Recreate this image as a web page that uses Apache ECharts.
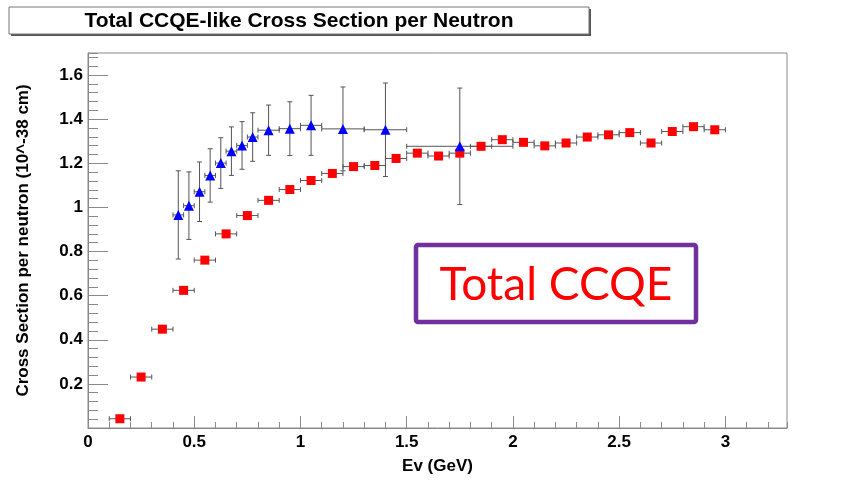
<!DOCTYPE html>
<html>
<head>
<meta charset="utf-8">
<script src="https://cdn.jsdelivr.net/npm/echarts@6.0.0/dist/echarts.min.js"></script>
<style>
  html, body { margin: 0; padding: 0; background: #fff; }
  #main { width: 861px; height: 480px; }
</style>
</head>
<body>
<div id="main"></div>
<script>
// total CCQE (red squares), bin centres, half width 0.05
var redX = [0.15, 0.25, 0.35, 0.45, 0.55, 0.65, 0.75, 0.85, 0.95, 1.05,
            1.15, 1.25, 1.35, 1.45, 1.55, 1.65, 1.75, 1.85, 1.95, 2.05,
            2.15, 2.25, 2.35, 2.45, 2.55, 2.65, 2.75, 2.85, 2.95];
var redY = [0.042, 0.231, 0.448, 0.624, 0.761, 0.880, 0.963, 1.032, 1.081, 1.122,
            1.154, 1.185, 1.190, 1.222, 1.246, 1.233, 1.246, 1.277, 1.307, 1.295,
            1.279, 1.292, 1.319, 1.329, 1.339, 1.292, 1.344, 1.366, 1.352];
var redXErr = [0.05, 0.05, 0.05, 0.05, 0.05, 0.05, 0.05, 0.05, 0.05, 0.05,
               0.05, 0.05, 0.05, 0.05, 0.05, 0.05, 0.05, 0.05, 0.05, 0.05,
               0.05, 0.05, 0.05, 0.05, 0.05, 0.05, 0.05, 0.05, 0.05];

// measured points (blue triangles)
var blueX = [0.425, 0.475, 0.525, 0.575, 0.625, 0.675, 0.725, 0.775, 0.85, 0.95, 1.05, 1.2, 1.4, 1.75];
var blueY = [0.966, 1.008, 1.071, 1.145, 1.201, 1.255, 1.281, 1.319, 1.350, 1.357, 1.372, 1.356, 1.352, 1.277];
var blueXErr = [0.025, 0.025, 0.025, 0.025, 0.025, 0.025, 0.025, 0.025, 0.05, 0.05, 0.05, 0.1, 0.1, 0.25];
var blueYErr = [0.200, 0.153, 0.135, 0.121, 0.115, 0.110, 0.108, 0.110, 0.114, 0.122, 0.136, 0.190, 0.212, 0.264];

var font = "'Liberation Sans', Arial, sans-serif";

function rows(xs, ys, xe, ye) {
  var out = [];
  for (var i = 0; i < xs.length; i++) {
    out.push([xs[i], ys[i], xe[i], ye ? ye[i] : 0]);
  }
  return out;
}

function renderErr(params, api) {
  var x = api.value(0), y = api.value(1), ex = api.value(2), ey = api.value(3);
  var st = { stroke: '#555', lineWidth: 1 };
  var cap = 2.5;
  var kids = [];
  var l = api.coord([x - ex, y]), r = api.coord([x + ex, y]);
  kids.push({ type: 'line', shape: { x1: l[0], y1: l[1], x2: r[0], y2: r[1] }, style: st });
  kids.push({ type: 'line', shape: { x1: l[0], y1: l[1] - cap, x2: l[0], y2: l[1] + cap }, style: st });
  kids.push({ type: 'line', shape: { x1: r[0], y1: r[1] - cap, x2: r[0], y2: r[1] + cap }, style: st });
  if (ey > 0) {
    var t = api.coord([x, y + ey]), b = api.coord([x, y - ey]);
    kids.push({ type: 'line', shape: { x1: t[0], y1: t[1], x2: b[0], y2: b[1] }, style: st });
    kids.push({ type: 'line', shape: { x1: t[0] - cap, y1: t[1], x2: t[0] + cap, y2: t[1] }, style: st });
    kids.push({ type: 'line', shape: { x1: b[0] - cap, y1: b[1], x2: b[0] + cap, y2: b[1] }, style: st });
  }
  return { type: 'group', children: kids };
}

var labelStyle = { color: '#000', fontFamily: font, fontWeight: 'bold', fontSize: 17 };
var nameStyle = { color: '#000', fontFamily: font, fontWeight: 'bold', fontSize: 17 };

var option = {
  backgroundColor: '#fff',
  animation: false,
  grid: {
    left: 88, top: 53, width: 699, height: 382,
    show: true, borderColor: '#8a8a8a', borderWidth: 1
  },
  xAxis: [
    {
      type: 'value', min: 0, max: 3.29, interval: 0.5,
      name: 'Ev (GeV)', nameLocation: 'middle', nameGap: 30,
      nameTextStyle: nameStyle,
      axisLine: { lineStyle: { color: '#8a8a8a' } },
      axisTick: { inside: true, length: 12, lineStyle: { color: '#8a8a8a' } },
      axisLabel: Object.assign({ margin: 6, showMaxLabel: false }, labelStyle),
      splitLine: { show: false }
    },
    {
      // minor ticks
      type: 'value', min: 0, max: 3.29, interval: 0.1, position: 'bottom',
      axisLine: { show: false },
      axisTick: { inside: true, length: 6, lineStyle: { color: '#8a8a8a' } },
      axisLabel: { show: false },
      splitLine: { show: false }
    }
  ],
  yAxis: [
    {
      type: 'value', min: 0, max: 1.7, interval: 0.2,
      name: 'Cross Section per neutron (10^-38 cm)', nameLocation: 'middle', nameGap: 56,
      nameTextStyle: nameStyle,
      axisLine: { lineStyle: { color: '#8a8a8a' } },
      axisTick: { inside: true, length: 20, lineStyle: { color: '#8a8a8a' } },
      axisLabel: Object.assign({ margin: 5, showMinLabel: false, showMaxLabel: false }, labelStyle),
      splitLine: { show: false }
    },
    {
      type: 'value', min: 0, max: 1.7, interval: 0.04, position: 'left',
      axisLine: { show: false },
      axisTick: { inside: true, length: 10, lineStyle: { color: '#8a8a8a' } },
      axisLabel: { show: false },
      splitLine: { show: false }
    }
  ],
  series: [
    {
      type: 'custom', name: 'redErr', renderItem: renderErr,
      encode: { x: 0, y: 1 }, z: 2,
      data: rows(redX, redY, redXErr)
    },
    {
      type: 'custom', name: 'blueErr', renderItem: renderErr,
      encode: { x: 0, y: 1 }, z: 2,
      data: rows(blueX, blueY, blueXErr, blueYErr)
    },
    {
      type: 'scatter', name: 'Total CCQE', symbol: 'rect', symbolSize: 9, z: 4,
      itemStyle: { color: '#ff0000', opacity: 1 },
      data: redX.map(function (x, i) { return [x, redY[i]]; })
    },
    {
      type: 'scatter', name: 'data', symbol: 'triangle', symbolSize: 10, z: 5,
      itemStyle: { color: '#0000ff', opacity: 1 },
      data: blueX.map(function (x, i) { return [x, blueY[i]]; })
    }
  ],
  graphic: [
    // title box with ROOT style shadow
    { type: 'rect', shape: { x: 11, y: 9, width: 580, height: 27 }, style: { fill: '#555' }, z: 10 },
    { type: 'rect', shape: { x: 9, y: 7, width: 580, height: 27 }, style: { fill: '#fff', stroke: '#777', lineWidth: 1 }, z: 11 },
    {
      type: 'text', x: 299, y: 21, z: 12,
      style: {
        text: 'Total CCQE-like Cross Section per Neutron',
        fill: '#000', font: 'bold 21px ' + font,
        textAlign: 'center', textVerticalAlign: 'middle'
      }
    },
    // annotation
    {
      type: 'rect', z: 10,
      shape: { x: 416, y: 245, width: 280, height: 77, r: 2 },
      style: { fill: '#fff', stroke: '#7030a0', lineWidth: 4.5 }
    },
    {
      type: 'text', x: 556, y: 285, z: 11,
      style: {
        text: 'Total CCQE', fill: '#ff0000', font: '46px Lato, sans-serif',
        textAlign: 'center', textVerticalAlign: 'middle'
      }
    }
  ]
};

var chart = echarts.init(document.getElementById('main'));
chart.setOption(option);
</script>
</body>
</html>
